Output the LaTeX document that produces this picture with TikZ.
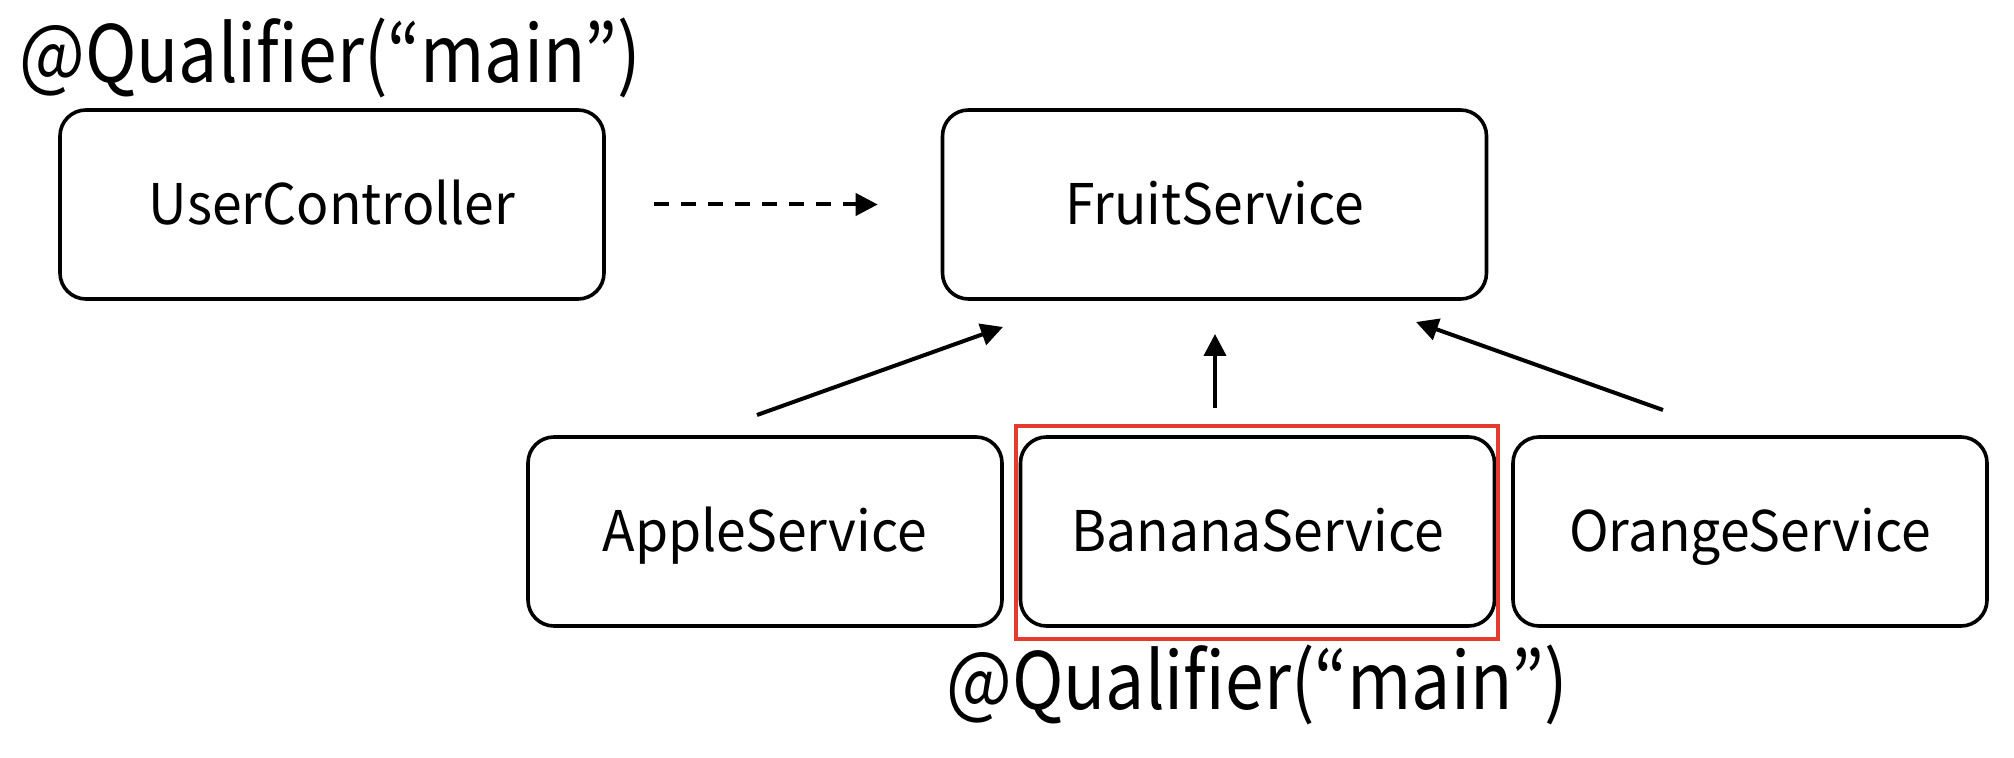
\documentclass[tikz,border=0pt]{standalone}
\usepackage{fontspec}
\setmainfont{Noto Sans CJK KR}
\newfontfamily\boxfont[FakeStretch=0.955]{Noto Sans CJK KR}
\newfontfamily\qualfont[FakeStretch=0.88]{Noto Sans CJK KR}
\usetikzlibrary{arrows.meta}
\definecolor{qred}{HTML}{E53A2E}
\begin{document}
\begin{tikzpicture}[x=0.5pt,y=-0.5pt,
  box/.style={draw, line width=1.8pt, rounded corners=13pt, inner sep=0pt,
    font=\boxfont\fontsize{28}{30}\selectfont, text height=20.5pt, text depth=0pt},
  ctl/.style={box, minimum width=272pt, minimum height=94.5pt},
  svc/.style={box, minimum width=237pt, minimum height=94.5pt},
  qual/.style={anchor=base west, inner sep=0pt, font=\qualfont\fontsize{39.5}{42}\selectfont},
  arr/.style={line width=2pt, -{Triangle[length=11pt,width=11pt]}},
  darr/.style={arr, dash pattern=on 7.5pt off 6pt}]
\useasboundingbox (0,0) rectangle (2014,758);
\node[ctl] (user) at (332,204.5) {UserController};
\node[ctl] (fruit) at (1214.5,204.5) {FruitService};
\node[svc] (apple) at (765,531.5) {AppleService};
\node[svc] (banana) at (1257.5,531.5) {BananaService};
\node[svc] (orange) at (1750,531.5) {OrangeService};
\node[draw=qred, line width=2.4pt, inner sep=0pt, minimum width=241pt, minimum height=106.5pt] (sel) at (1257,532.5) {};
\node[qual] (qtop) at (19,83) {@Qualifier(“main”)};
\node[qual] (qbot) at (946,710) {@Qualifier(“main”)};
\draw[darr, shorten <=24pt, shorten >=31.5pt] (user) -- (fruit);
\coordinate (a0) at (757,415);
\coordinate (a1) at (1003,327);
\coordinate (b0) at (1215,408);
\coordinate (b1) at (1215,334);
\coordinate (o0) at (1663,410);
\coordinate (o1) at (1416,322);
\draw[arr] (a0) -- (a1);
\draw[arr] (b0) -- (b1);
\draw[arr] (o0) -- (o1);
\end{tikzpicture}
\end{document}
